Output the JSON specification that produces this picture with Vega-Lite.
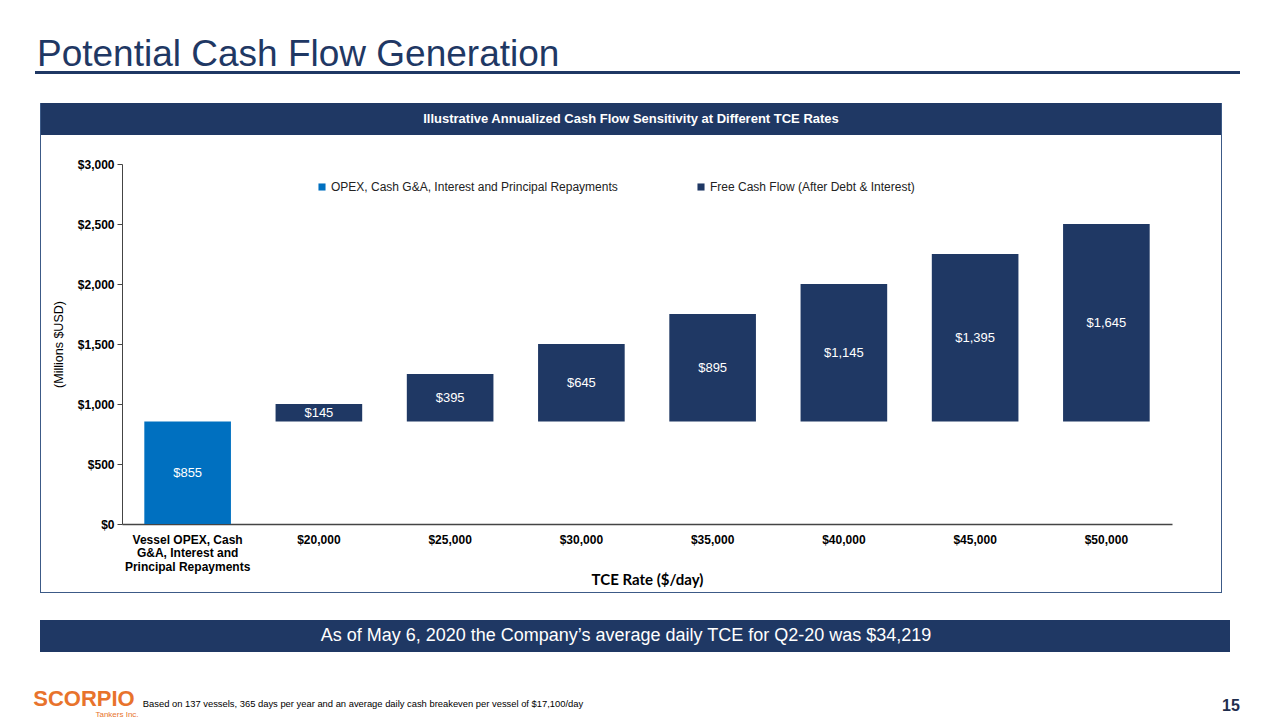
{
  "$schema": "https://vega.github.io/schema/vega-lite/v6.json",
  "padding": {"left": 28, "top": 35, "right": 0, "bottom": 0},
  "background": "white",
  "config": {"font": "Liberation Sans", "view": {"stroke": null}},
  "columns": 1,
  "align": "none",
  "spacing": 19,
  "concat": [
    {
      "hconcat": [
        {"width": 7, "height": 3, "data": {"values": [{"t": ""}]}, "mark": {"type": "text"}, "encoding": {"text": {"field": "t"}}},
        {
          "title": {"text": "Potential Cash Flow Generation", "anchor": "start", "fontSize": 37, "color": "#1F3864", "fontWeight": "normal", "font": "Liberation Sans", "offset": -7, "dx": 2},
          "width": 1205, "height": 3,
          "view": {"fill": "#1F3864", "stroke": null},
          "data": {"values": [{"t": ""}]},
          "mark": {"type": "text"},
          "encoding": {"text": {"field": "t"}}
        }
      ],
      "spacing": 0
    },
    {
      "columns": 1,
      "align": "none",
      "spacing": 22,
      "concat": [
        {
          "columns": 1,
          "align": "none",
          "spacing": -6,
          "concat": [
            {
              "hconcat": [
                {"width": 12, "height": 1, "data": {"values": [{"t": ""}]}, "mark": {"type": "text"}, "encoding": {"text": {"field": "t"}}},
                {"width": 1, "height": 489, "view": {"fill": "#3C5A87", "stroke": null}, "data": {"values": [{"t": ""}]}, "mark": {"type": "text"}, "encoding": {"text": {"field": "t"}}},
                {
                  "columns": 1,
                  "align": "none",
                  "spacing": 23,
                  "concat": [
                    {
                      "width": 1180, "height": 32,
                      "view": {"fill": "#1F3864", "stroke": null},
                      "data": {"values": [{"t": "Illustrative Annualized Cash Flow Sensitivity at Different TCE Rates"}]},
                      "mark": {"type": "text", "color": "white", "fontSize": 13, "fontWeight": "bold"},
                      "encoding": {"text": {"field": "t"}}
                    },
                    {
                      "hconcat": [
                        {"width": 11, "height": 10, "data": {"values": [{"t": ""}]}, "mark": {"type": "text"}, "encoding": {"text": {"field": "t"}}},
                        {
                          "width": 1050, "height": 360,
                          "data": {"values": [
                            {"cat": "Vessel OPEX, Cash|G&A, Interest and|Principal Repayments", "series": "OPEX, Cash G&A, Interest and Principal Repayments", "start": 0, "end": 855, "value": 855},
                            {"cat": "$20,000", "series": "Free Cash Flow (After Debt & Interest)", "start": 855, "end": 1000, "value": 145},
                            {"cat": "$25,000", "series": "Free Cash Flow (After Debt & Interest)", "start": 855, "end": 1250, "value": 395},
                            {"cat": "$30,000", "series": "Free Cash Flow (After Debt & Interest)", "start": 855, "end": 1500, "value": 645},
                            {"cat": "$35,000", "series": "Free Cash Flow (After Debt & Interest)", "start": 855, "end": 1750, "value": 895},
                            {"cat": "$40,000", "series": "Free Cash Flow (After Debt & Interest)", "start": 855, "end": 2000, "value": 1145},
                            {"cat": "$45,000", "series": "Free Cash Flow (After Debt & Interest)", "start": 855, "end": 2250, "value": 1395},
                            {"cat": "$50,000", "series": "Free Cash Flow (After Debt & Interest)", "start": 855, "end": 2500, "value": 1645}
                          ]},
                          "transform": [{"calculate": "(datum.start + datum.end) / 2", "as": "mid"}],
                          "encoding": {
                            "x": {
                              "field": "cat", "type": "nominal", "sort": null,
                              "scale": {"paddingInner": 0.34, "paddingOuter": 0.17},
                              "axis": {
                                "title": "TCE Rate ($/day)", "titleFont": "Lato", "titleFontSize": 15, "titleFontWeight": "bold", "titleColor": "#000", "titlePadding": 0,
                                "labelAngle": 0, "labelFontSize": 12, "labelFontWeight": "bold", "labelColor": "#000", "labelPadding": 10, "labelLineHeight": 13.5,
                                "labelExpr": "split(datum.label, '|')",
                                "ticks": false, "domainColor": "#444", "domainWidth": 1.5, "grid": false
                              }
                            }
                          },
                          "layer": [
                            {
                              "mark": {"type": "bar"},
                              "encoding": {
                                "y": {
                                  "field": "start", "type": "quantitative", "scale": {"domain": [0, 3000]},
                                  "axis": {
                                    "title": "(Millions $USD)", "titleFontSize": 12.5, "titleFontWeight": "normal", "titleColor": "#000", "titlePadding": 12,
                                    "values": [0, 500, 1000, 1500, 2000, 2500, 3000], "format": "$,.0f",
                                    "labelFontSize": 12, "labelFontWeight": "bold", "labelColor": "#000", "labelPadding": 3,
                                    "tickSize": 5, "tickColor": "#444", "domainColor": "#444", "grid": false
                                  }
                                },
                                "y2": {"field": "end"},
                                "color": {
                                  "field": "series", "type": "nominal",
                                  "scale": {"domain": ["OPEX, Cash G&A, Interest and Principal Repayments", "Free Cash Flow (After Debt & Interest)"], "range": ["#0070C0", "#1F3864"]},
                                  "legend": {
                                    "title": null, "orient": "none", "legendX": 288, "legendY": 110, "direction": "horizontal",
                                    "symbolType": "square", "symbolSize": 50, "symbolStrokeWidth": 0, "labelFontSize": 12, "labelColor": "#222", "labelOffset": 3, "labelLimit": 500,
                                    "columnPadding": 77, "padding": 0
                                  }
                                }
                              }
                            },
                            {
                              "mark": {"type": "text", "color": "white", "fontSize": 13},
                              "encoding": {
                                "y": {"field": "mid", "type": "quantitative"},
                                "text": {"field": "value", "type": "quantitative", "format": "$,.0f"}
                              }
                            }
                          ]
                        }
                      ],
                      "spacing": 0
                    }
                  ]
                },
                {"width": 1, "height": 489, "view": {"fill": "#3C5A87", "stroke": null}, "data": {"values": [{"t": ""}]}, "mark": {"type": "text"}, "encoding": {"text": {"field": "t"}}}
              ],
              "spacing": 0
            },
            {
              "hconcat": [
                {"width": 12, "height": 1, "data": {"values": [{"t": ""}]}, "mark": {"type": "text"}, "encoding": {"text": {"field": "t"}}},
                {"width": 1182, "height": 1, "view": {"fill": "#3C5A87", "stroke": null}, "data": {"values": [{"t": ""}]}, "mark": {"type": "text"}, "encoding": {"text": {"field": "t"}}}
              ],
              "spacing": 0
            }
          ]
        },
        {
          "hconcat": [
            {"width": 12, "height": 32, "data": {"values": [{"t": ""}]}, "mark": {"type": "text"}, "encoding": {"text": {"field": "t"}}},
            {
              "width": 1190, "height": 32,
              "view": {"fill": "#1F3864", "stroke": null},
              "data": {"values": [{"t": "As of May 6, 2020 the Company’s average daily TCE for Q2-20 was $34,219"}]},
              "mark": {"type": "text", "color": "white", "fontSize": 18, "dx": -9},
              "encoding": {"text": {"field": "t"}}
            }
          ],
          "spacing": 0
        }
      ]
    },
    {
      "hconcat": [
        {
          "width": 112, "height": 40,
          "data": {"values": [{"a": "SCORPIO", "b": "Tankers Inc."}]},
          "layer": [
            {"mark": {"type": "text", "color": "#E8732C", "fontSize": 22, "fontWeight": "bold", "dy": 8}, "encoding": {"text": {"field": "a"}}},
            {"mark": {"type": "text", "color": "#E8732C", "fontSize": 8, "dy": 24, "dx": 33}, "encoding": {"text": {"field": "b"}}}
          ]
        },
        {
          "width": 446, "height": 40,
          "data": {"values": [{"t": "Based on 137 vessels, 365 days per year and an average daily cash breakeven per vessel of $17,100/day"}]},
          "mark": {"type": "text", "color": "#000", "fontSize": 9.4, "dy": 13},
          "encoding": {"text": {"field": "t"}}
        },
        {"width": 626, "height": 40, "data": {"values": [{"t": ""}]}, "mark": {"type": "text"}, "encoding": {"text": {"field": "t"}}},
        {
          "width": 38, "height": 40,
          "data": {"values": [{"t": "15"}]},
          "mark": {"type": "text", "color": "#1F2D4D", "fontSize": 16, "fontWeight": "bold", "dy": 15},
          "encoding": {"text": {"field": "t"}}
        }
      ],
      "spacing": 0
    }
  ]
}
